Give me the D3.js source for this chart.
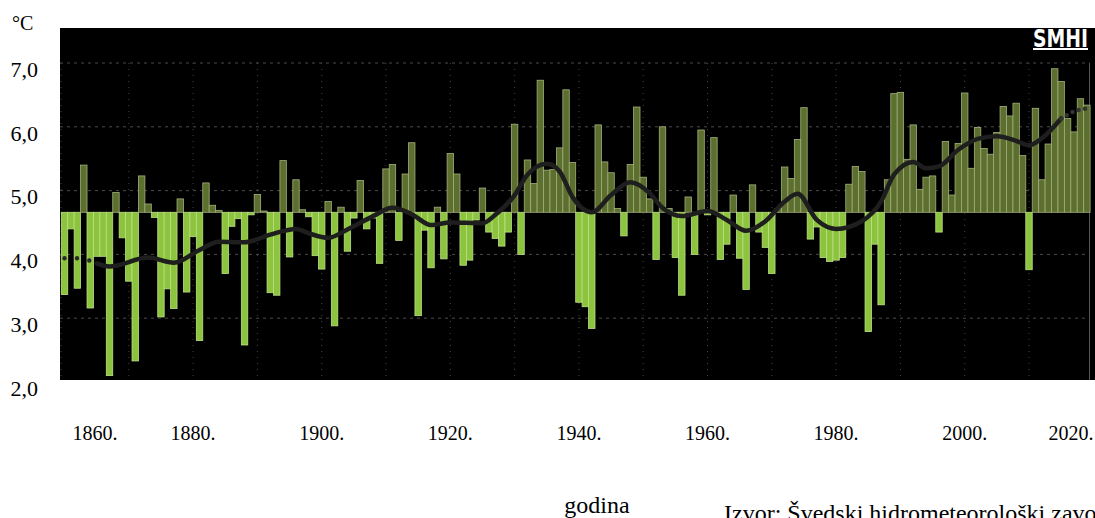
<!DOCTYPE html>
<html>
<head>
<meta charset="utf-8">
<script src="https://cdn.jsdelivr.net/npm/d3@7"></script>
<style>
  body { margin: 0; background: #fff; overflow: hidden; }
  text { font-family: "Liberation Serif", "Times New Roman", serif; fill: #000; }
</style>
</head>
<body>
<svg id="chart" width="1095" height="518"></svg>
<script>
// annual mean temperature, 1860 - 2019 (°C)
var firstYear = 1860;
var tempValues = [
  3.37, 4.40, 3.47, 5.40, 3.16, 3.97, 3.97, 2.10, 4.97, 4.26,   // 1860s
  3.58, 2.33, 5.23, 4.79, 4.58, 3.02, 3.46, 3.15, 4.87, 3.41,   // 1870s
  4.28, 2.65, 5.12, 4.77, 4.69, 3.70, 4.44, 4.56, 2.58, 4.62,   // 1880s
  4.94, 4.68, 3.40, 3.36, 5.47, 3.96, 5.17, 4.70, 4.59, 3.98,   // 1890s
  3.77, 4.83, 2.88, 4.74, 4.05, 4.57, 5.16, 4.40, 4.57, 3.86,   // 1900s
  5.34, 5.41, 4.22, 5.26, 5.75, 3.04, 4.38, 3.79, 4.74, 3.93,   // 1910s
  5.58, 5.26, 3.83, 3.91, 4.54, 5.04, 4.35, 4.25, 4.13, 4.35,   // 1920s
  6.04, 4.00, 5.48, 5.11, 6.73, 5.32, 5.33, 5.67, 6.58, 5.44,   // 1930s
  3.25, 3.18, 2.84, 6.03, 5.45, 5.28, 4.72, 4.29, 5.41, 6.31,   // 1940s
  5.21, 4.87, 3.92, 6.00, 4.72, 3.95, 3.36, 4.90, 4.00, 5.95,   // 1950s
  4.62, 5.83, 3.92, 4.16, 4.93, 3.94, 3.45, 5.09, 4.35, 4.11,   // 1960s
  3.70, 4.72, 5.37, 5.19, 5.80, 6.30, 4.24, 4.43, 3.95, 3.89,   // 1970s
  3.91, 3.95, 5.10, 5.38, 5.30, 2.79, 4.16, 3.21, 5.17, 6.52,   // 1980s
  6.54, 5.49, 6.03, 5.02, 5.21, 5.23, 4.35, 5.77, 4.93, 5.74,   // 1990s
  6.53, 5.35, 5.99, 5.66, 5.57, 5.91, 6.32, 6.17, 6.37, 5.55,   // 2000s
  3.76, 6.29, 5.17, 5.73, 6.91, 6.71, 6.13, 5.92, 6.44, 6.34    // 2010s
];
var years = d3.range(firstYear, firstYear + tempValues.length);
var normalTemp = 4.66;

// smoothed curve
var trendYears  = [1860, 1862, 1864, 1865, 1867, 1873, 1877, 1881, 1884, 1888, 1892, 1896, 1898, 1901, 1904,
                   1908, 1911, 1914, 1917, 1920, 1925, 1927, 1930, 1932, 1935, 1937, 1939, 1942, 1945, 1948,
                   1951, 1953, 1956, 1960, 1963, 1966, 1969, 1972, 1974, 1977, 1980, 1984, 1987, 1989, 1992,
                   1994, 1996, 1999, 2002, 2005, 2008, 2010, 2012, 2015, 2017, 2019];
var trendValues = [3.94, 3.94, 3.90, 3.86, 3.81, 3.95, 3.87, 4.07, 4.20, 4.19, 4.31, 4.40, 4.33, 4.26, 4.39,
                   4.60, 4.73, 4.63, 4.46, 4.50, 4.49, 4.62, 4.93, 5.25, 5.42, 5.30, 4.90, 4.66, 4.93, 5.13,
                   4.96, 4.73, 4.60, 4.68, 4.54, 4.37, 4.52, 4.83, 4.95, 4.54, 4.40, 4.52, 4.83, 5.25, 5.45,
                   5.35, 5.38, 5.64, 5.81, 5.85, 5.78, 5.71, 5.82, 6.13, 6.24, 6.29];
var trendSolidFrom = 1865, trendSolidTo = 2015;

var yTicks = [7, 6, 5, 4, 3, 2];
var xTicks = [1860, 1880, 1900, 1920, 1940, 1960, 1980, 2000, 2020];
var gridYears = d3.range(1870, 2020, 10);

var width = 1095, height = 518;
var plot = { left: 60, right: 1095, top: 28, bottom: 380 };

var svg = d3.select('#chart');

var x = d3.scaleBand()
    .domain(years)
    .range([61.3, 1090.1])
    .paddingInner(0);
var bw = x.bandwidth();
var xLin = d3.scaleLinear()
    .domain([years[0], years[years.length - 1]])
    .range([x(years[0]) + bw / 2, x(years[years.length - 1]) + bw / 2]);

var y = d3.scaleLinear()
    .domain([2, 7])
    .range([382, 63]);

var fmt = d3.formatLocale({ decimal: ",", thousands: ".", grouping: [3], currency: ["", ""] }).format(".1f");

// black plot area
svg.append('rect')
    .attr('x', plot.left).attr('y', plot.top)
    .attr('width', plot.right - plot.left).attr('height', plot.bottom - plot.top)
    .attr('fill', '#000');

// grid
svg.append('g').selectAll('line')
    .data(yTicks.filter(function(d) { return y(d) < plot.bottom; }))
    .enter().append('line')
    .attr('x1', plot.left).attr('x2', 1089.5)
    .attr('y1', function(d) { return y(d); })
    .attr('y2', function(d) { return y(d); })
    .attr('stroke', '#4a4a4a').attr('stroke-width', 1)
    .attr('stroke-dasharray', '3,4');

svg.append('g').selectAll('line')
    .data(gridYears)
    .enter().append('line')
    .attr('x1', function(d) { return xLin(d); })
    .attr('x2', function(d) { return xLin(d); })
    .attr('y1', y(7)).attr('y2', plot.bottom)
    .attr('stroke', '#444').attr('stroke-width', 1)
    .attr('stroke-dasharray', '1,5');

svg.append('line')
    .attr('x1', 61).attr('x2', 61).attr('y1', y(7)).attr('y2', plot.bottom)
    .attr('stroke', '#444').attr('stroke-dasharray', '1,5');
svg.append('line')
    .attr('x1', 1089.5).attr('x2', 1089.5).attr('y1', y(7)).attr('y2', plot.bottom)
    .attr('stroke', '#555').attr('stroke-width', 1);

// bars
svg.append('g').selectAll('rect')
    .data(tempValues)
    .enter().append('rect')
    .attr('x', function(d, i) { return x(years[i]); })
    .attr('width', bw)
    .attr('y', function(d) { return y(Math.max(d, normalTemp)); })
    .attr('height', function(d) { return Math.abs(y(d) - y(normalTemp)); })
    .attr('fill', function(d) { return d >= normalTemp ? '#5c6f2f' : '#8cc43e'; })
    .attr('stroke', function(d) { return d >= normalTemp ? '#a3b07c' : '#bfe08a'; })
    .attr('stroke-width', 0.8);

// smoothed curve
var trend = trendYears.map(function(d, i) { return { year: d, v: trendValues[i] }; });
var line = d3.line()
    .x(function(d) { return xLin(d.year); })
    .y(function(d) { return y(d.v); })
    .curve(d3.curveMonotoneX);

svg.append('path')
    .datum(trend.filter(function(d) { return d.year >= trendSolidFrom && d.year <= trendSolidTo; }))
    .attr('d', line)
    .attr('fill', 'none')
    .attr('stroke', '#1e1e1e')
    .attr('stroke-width', 4.5)
    .attr('stroke-linecap', 'round');

svg.append('path')
    .datum(trend.filter(function(d) { return d.year <= trendSolidFrom; }))
    .attr('d', line)
    .attr('fill', 'none')
    .attr('stroke', '#2a2a2a')
    .attr('stroke-width', 4.5)
    .attr('stroke-linecap', 'round')
    .attr('stroke-dasharray', '0,12.5');

svg.append('path')
    .datum(trend.filter(function(d) { return d.year >= trendSolidTo; }))
    .attr('d', line)
    .attr('fill', 'none')
    .attr('stroke', '#333')
    .attr('stroke-width', 4.5)
    .attr('stroke-linecap', 'round')
    .attr('stroke-dasharray', '0,6.5');

// SMHI mark
svg.append('text')
    .attr('x', 1033).attr('y', 47)
    .attr('textLength', 55).attr('lengthAdjust', 'spacingAndGlyphs')
    .style('font-family', '"DejaVu Sans Condensed", "DejaVu Sans", sans-serif')
    .style('font-weight', 'bold').style('font-size', '24px')
    .style('fill', '#fff')
    .text('SMHI');
svg.append('rect')
    .attr('x', 1033).attr('y', 48).attr('width', 55).attr('height', 2)
    .attr('fill', '#fff');

// y axis
var yAxis = svg.append('g')
    .attr('transform', 'translate(38,0)')
    .call(d3.axisLeft(y).tickValues(yTicks).tickSize(0).tickPadding(0).tickFormat(fmt));
yAxis.select('.domain').remove();
yAxis.selectAll('text')
    .attr('dy', '0.6em')
    .style('font-size', '22px')
    .style('font-family', '"Liberation Serif", serif')
    .attr('fill', '#000');

svg.append('text')
    .attr('x', 12).attr('y', 30)
    .style('font-size', '20px')
    .text('°C');

// x axis
var xAxis = svg.append('g')
    .attr('transform', 'translate(0,' + plot.bottom + ')')
    .call(d3.axisBottom(xLin).tickValues(xTicks).tickSize(0).tickFormat(function(d) { return d + '.'; }));
xAxis.select('.domain').remove();
xAxis.selectAll('.tick')
    .attr('transform', function(d) {
      var px = Math.max(plot.left + 35, Math.min(width - 24, xLin(d)));
      return 'translate(' + px + ',0)';
    });
xAxis.selectAll('text')
    .attr('y', 60).attr('dy', 0)
    .style('font-size', '20px')
    .style('font-family', '"Liberation Serif", serif')
    .attr('fill', '#000');

svg.append('text')
    .attr('x', 597).attr('y', 513)
    .attr('text-anchor', 'middle')
    .style('font-size', '24px')
    .text('godina');

svg.append('text')
    .attr('x', 724).attr('y', 521)
    .style('font-size', '24px')
    .text('Izvor: Švedski hidrometeorološki zavod (SMHI)');
</script>
</body>
</html>
